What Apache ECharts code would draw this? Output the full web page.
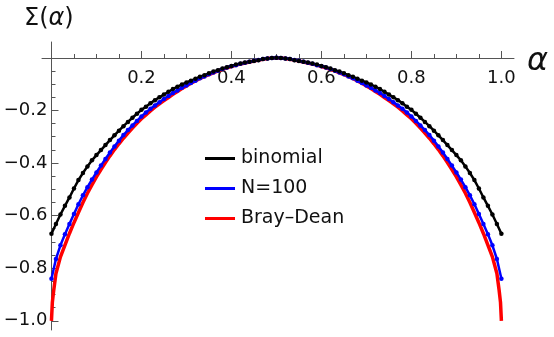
<!DOCTYPE html>
<html>
<head>
<meta charset="utf-8">
<script src="https://cdn.jsdelivr.net/npm/echarts@6/dist/echarts.min.js"></script>
<style>
  html, body { margin: 0; padding: 0; background: #fff; }
  #chart { width: 554px; height: 337px; }
</style>
</head>
<body>
<div id="chart"></div>
<script>
// sample points, alpha = k/100
const alpha = [
  0.00,0.01,0.02,0.03,0.04,0.05,0.06,0.07,0.08,0.09,
  0.10,0.11,0.12,0.13,0.14,0.15,0.16,0.17,0.18,0.19,
  0.20,0.21,0.22,0.23,0.24,0.25,0.26,0.27,0.28,0.29,
  0.30,0.31,0.32,0.33,0.34,0.35,0.36,0.37,0.38,0.39,
  0.40,0.41,0.42,0.43,0.44,0.45,0.46,0.47,0.48,0.49,
  0.50,
  0.51,0.52,0.53,0.54,0.55,0.56,0.57,0.58,0.59,0.60,
  0.61,0.62,0.63,0.64,0.65,0.66,0.67,0.68,0.69,0.70,
  0.71,0.72,0.73,0.74,0.75,0.76,0.77,0.78,0.79,0.80,
  0.81,0.82,0.83,0.84,0.85,0.86,0.87,0.88,0.89,0.90,
  0.91,0.92,0.93,0.94,0.95,0.96,0.97,0.98,0.99,1.00
];

const binomial = [
  -0.669,-0.632,-0.596,-0.563,-0.531,-0.497,-0.465,-0.438,-0.413,-0.390,
  -0.370,-0.351,-0.332,-0.313,-0.295,-0.277,-0.260,-0.244,-0.228,-0.213,
  -0.198,-0.186,-0.173,-0.161,-0.150,-0.140,-0.129,-0.119,-0.110,-0.102,
  -0.094,-0.087,-0.080,-0.072,-0.066,-0.059,-0.052,-0.047,-0.041,-0.036,
  -0.031,-0.026,-0.022,-0.018,-0.015,-0.012,-0.009,-0.005,-0.003,-0.001,
  0,
  -0.001,-0.003,-0.005,-0.009,-0.012,-0.015,-0.018,-0.022,-0.026,-0.031,
  -0.036,-0.041,-0.047,-0.052,-0.059,-0.066,-0.072,-0.080,-0.087,-0.094,
  -0.102,-0.110,-0.119,-0.129,-0.140,-0.150,-0.161,-0.173,-0.186,-0.198,
  -0.213,-0.228,-0.244,-0.260,-0.277,-0.295,-0.313,-0.332,-0.351,-0.370,
  -0.390,-0.413,-0.438,-0.465,-0.497,-0.531,-0.563,-0.596,-0.632,-0.669
];

const n100 = [
  -0.840,-0.765,-0.713,-0.671,-0.632,-0.594,-0.557,-0.523,-0.492,-0.463,
  -0.436,-0.410,-0.385,-0.360,-0.337,-0.315,-0.294,-0.275,-0.257,-0.240,
  -0.223,-0.208,-0.194,-0.181,-0.169,-0.157,-0.145,-0.134,-0.124,-0.114,
  -0.105,-0.096,-0.087,-0.078,-0.071,-0.063,-0.056,-0.049,-0.043,-0.037,
  -0.032,-0.028,-0.023,-0.019,-0.015,-0.011,-0.008,-0.005,-0.003,-0.001,
  0,
  -0.001,-0.003,-0.005,-0.008,-0.011,-0.015,-0.019,-0.023,-0.028,-0.032,
  -0.037,-0.043,-0.049,-0.056,-0.063,-0.071,-0.078,-0.087,-0.096,-0.105,
  -0.114,-0.124,-0.134,-0.145,-0.157,-0.169,-0.181,-0.194,-0.208,-0.223,
  -0.240,-0.257,-0.275,-0.294,-0.315,-0.337,-0.360,-0.385,-0.410,-0.436,
  -0.463,-0.492,-0.523,-0.557,-0.594,-0.632,-0.671,-0.713,-0.765,-0.840
];

// Bray-Dean curve (solid line, no markers)
const brayDeanAlpha = [
  0.000,0.002,0.005,0.01,0.02,0.03,0.04,0.05,0.06,0.07,0.08,0.09,
  0.10,0.11,0.12,0.13,0.14,0.15,0.16,0.17,0.18,0.19,
  0.20,0.21,0.22,0.23,0.24,0.25,0.26,0.27,0.28,0.29,
  0.30,0.31,0.32,0.33,0.34,0.35,0.36,0.37,0.38,0.39,
  0.40,0.41,0.42,0.43,0.44,0.45,0.46,0.47,0.48,0.49,
  0.50,
  0.51,0.52,0.53,0.54,0.55,0.56,0.57,0.58,0.59,0.60,
  0.61,0.62,0.63,0.64,0.65,0.66,0.67,0.68,0.69,0.70,
  0.71,0.72,0.73,0.74,0.75,0.76,0.77,0.78,0.79,0.80,
  0.81,0.82,0.83,0.84,0.85,0.86,0.87,0.88,0.89,0.90,
  0.91,0.92,0.93,0.94,0.95,0.96,0.97,0.98,0.99,0.995,0.998,1.000
];
const brayDean = [
  -1.000,-0.930,-0.885,-0.820,-0.757,-0.712,-0.668,-0.627,-0.588,-0.550,-0.515,-0.483,
  -0.453,-0.425,-0.398,-0.373,-0.349,-0.327,-0.306,-0.286,-0.267,-0.249,
  -0.232,-0.217,-0.202,-0.188,-0.175,-0.163,-0.151,-0.139,-0.128,-0.117,
  -0.107,-0.097,-0.088,-0.079,-0.071,-0.064,-0.057,-0.050,-0.044,-0.038,
  -0.033,-0.028,-0.024,-0.020,-0.016,-0.012,-0.009,-0.006,-0.003,-0.001,
  0,
  -0.001,-0.003,-0.006,-0.009,-0.012,-0.016,-0.020,-0.024,-0.028,-0.033,
  -0.038,-0.044,-0.050,-0.057,-0.064,-0.071,-0.079,-0.088,-0.097,-0.107,
  -0.117,-0.128,-0.139,-0.151,-0.163,-0.175,-0.188,-0.202,-0.217,-0.232,
  -0.249,-0.267,-0.286,-0.306,-0.327,-0.349,-0.373,-0.398,-0.425,-0.453,
  -0.483,-0.515,-0.550,-0.588,-0.627,-0.668,-0.712,-0.757,-0.820,-0.885,-0.930,-1.000
];

const xMajorTicks = [0.2, 0.4, 0.6, 0.8, 1.0];
const xMinorTicks = [0.05, 0.1, 0.15, 0.25, 0.3, 0.35, 0.45, 0.5, 0.55, 0.65, 0.7, 0.75, 0.85, 0.9, 0.95];
const yMajorTicks = [-0.2, -0.4, -0.6, -0.8, -1.0];
const yMinorTicks = [-0.05, -0.1, -0.15, -0.25, -0.3, -0.35, -0.45, -0.5, -0.55, -0.65, -0.7, -0.75, -0.85, -0.9, -0.95];

const FONT = 'DejaVu Sans';
const AXIS_COLOR = '#555';

// axes cross at (0, 0), inside the grid: shift them from the grid edges
const X_AXIS_OFFSET = -272;
const Y_AXIS_OFFSET = -9.5;

const chart = echarts.init(document.getElementById('chart'));

const toPairs = (xs, ys) => xs.map((x, i) => [x, ys[i]]);

const option = {
  animation: false,
  backgroundColor: '#fff',
  // y-axis label Σ(α), sitting above the vertical axis
  title: {
    text: '{s|Σ(}{a|α}{s|)}',
    left: 24,
    top: 7,
    padding: 0,
    textStyle: {
      fontWeight: 'normal',
      rich: {
        s: { fontFamily: FONT, fontSize: 24, fontWeight: 'normal', color: '#111' },
        a: { fontFamily: FONT, fontSize: 24, fontWeight: 'normal', fontStyle: 'italic', color: '#111' }
      }
    }
  },
  grid: { left: 42, top: 42, width: 472, height: 288, outerBoundsMode: 'none', containLabel: false },
  legend: {
    orient: 'vertical',
    left: 200,
    top: 143,
    icon: 'rect',
    itemWidth: 30,
    itemHeight: 3,
    itemGap: 9,
    data: ['binomial', 'N=100', 'Bray\u2013Dean'],
    textStyle: { fontFamily: FONT, fontSize: 19, color: '#111', lineHeight: 21, padding: [0, 0, 0, 1] }
  },
  xAxis: [
    {
      type: 'value',
      min: -0.021,
      max: 1.028,
      position: 'bottom',
      offset: X_AXIS_OFFSET,
      name: 'α',
      nameLocation: 'end',
      nameGap: 13,
      nameTextStyle: { fontFamily: FONT, fontSize: 32, fontStyle: 'italic', color: '#111', verticalAlign: 'top', lineHeight: 8 },
      axisLine: { onZero: false, lineStyle: { color: AXIS_COLOR, width: 1 } },
      axisTick: { customValues: xMajorTicks, inside: true, length: 7, lineStyle: { color: AXIS_COLOR } },
      axisLabel: {
        customValues: xMajorTicks,
        margin: 11,
        fontFamily: FONT,
        fontSize: 18,
        color: '#111',
        formatter: v => v.toFixed(1)
      },
      splitLine: { show: false }
    },
    {
      type: 'value',
      min: -0.021,
      max: 1.028,
      position: 'bottom',
      offset: X_AXIS_OFFSET,
      axisLine: { show: false, onZero: false },
      axisTick: { customValues: xMinorTicks, inside: true, length: 4, lineStyle: { color: AXIS_COLOR } },
      axisLabel: { show: false },
      splitLine: { show: false }
    }
  ],
  yAxis: [
    {
      type: 'value',
      min: -1.035,
      max: 0.06,
      position: 'left',
      offset: Y_AXIS_OFFSET,
      axisLine: { onZero: false, lineStyle: { color: AXIS_COLOR, width: 1 } },
      axisTick: { customValues: yMajorTicks, inside: true, length: 7, lineStyle: { color: AXIS_COLOR } },
      axisLabel: {
        customValues: yMajorTicks,
        margin: 4,
        fontFamily: FONT,
        fontSize: 18,
        color: '#111',
        formatter: v => '\u2212' + Math.abs(v).toFixed(1)
      },
      splitLine: { show: false }
    },
    {
      type: 'value',
      min: -1.035,
      max: 0.06,
      position: 'left',
      offset: Y_AXIS_OFFSET,
      axisLine: { show: false, onZero: false },
      axisTick: { customValues: yMinorTicks, inside: true, length: 4, lineStyle: { color: AXIS_COLOR } },
      axisLabel: { show: false },
      splitLine: { show: false }
    }
  ],
  series: [
    {
      name: 'Bray\u2013Dean',
      type: 'line',
      data: toPairs(brayDeanAlpha, brayDean),
      showSymbol: false,
      symbol: 'none',
      color: '#ff0000',
      lineStyle: { color: '#ff0000', width: 3.5 }
    },
    {
      name: 'N=100',
      type: 'line',
      data: toPairs(alpha, n100),
      symbol: 'circle',
      symbolSize: 4.5,
      color: '#0000ff',
      itemStyle: { color: '#0000ff' },
      lineStyle: { color: '#0000ff', width: 2.5 }
    },
    {
      name: 'binomial',
      type: 'line',
      data: toPairs(alpha, binomial),
      symbol: 'circle',
      symbolSize: 4.5,
      color: '#000',
      itemStyle: { color: '#000' },
      lineStyle: { color: '#000', width: 2.5 }
    }
  ]
};

chart.setOption(option);
</script>
</body>
</html>
